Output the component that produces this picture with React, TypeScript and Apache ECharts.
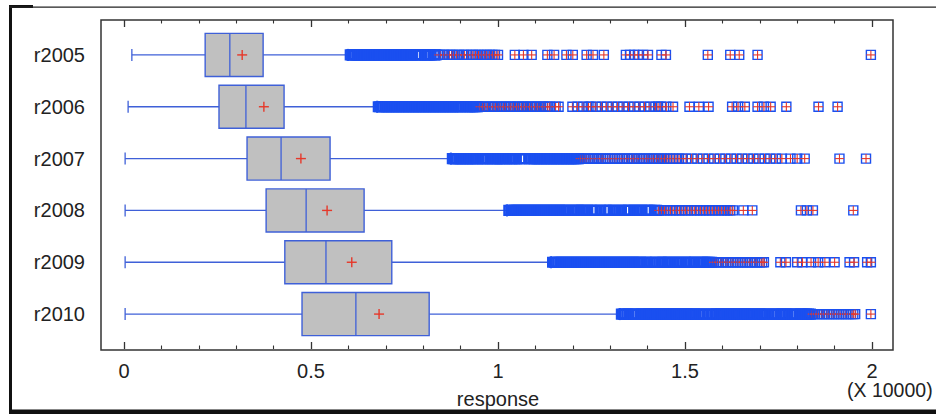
import React, { useEffect, useRef } from "react";
import * as echarts from "echarts";

// ---- data (response values; the axis shows them in units of 10000) ----
const categories = ["r2005", "r2006", "r2007", "r2008", "r2009", "r2010"];
const whiskerLow = [210, 110, 30, 30, 30, 30];
const q1 = [2170, 2540, 3290, 3800, 4300, 4760];
const median = [2830, 3260, 4200, 4870, 5400, 6200];
const q3 = [3720, 4280, 5510, 6420, 7160, 8160];
const whiskerHigh = [5990, 6770, 8740, 10240, 11420, 13260];
const mean = [3160, 3740, 4730, 5430, 6090, 6820];

const out2005 = [
  6050, 6090, 6140, 6180, 6230, 6270, 6320, 6360, 6410, 6450, 6500, 6540, 6590, 6630, 6680, 6720, 6770, 6810,
  6860, 6900, 6950, 6990, 7040, 7080, 7130, 7170, 7220, 7260, 7310, 7350, 7400, 7440, 7490, 7530, 7580, 7620,
  7670, 7710, 7800, 7850, 7890, 7940, 8030, 8070, 8120, 8160, 8210, 8300, 8340,
  8410, 8450, 8520, 8560, 8640, 8700, 8760, 8800, 8900, 8960, 9050, 9100, 9180, 9280, 9330, 9400, 9480, 9560,
  9640, 9700, 9780, 9850, 9920, 10000,
  10450, 10680, 10900, 11320, 11500, 11830, 12000, 12370, 12540, 12830, 13420, 13530, 13640, 13740, 13880,
  14010, 14370, 14490, 15610, 16210, 16450, 16940, 19970,
];
const out2006 = [
  6800, 6840, 6890, 6930, 6980, 7020, 7070, 7110, 7160, 7200, 7250, 7290, 7340, 7380, 7430, 7470, 7520, 7560,
  7610, 7650, 7700, 7740, 7790, 7830, 7880, 7920, 7970, 8010, 8060, 8100, 8150, 8190, 8240, 8280, 8330, 8370,
  8420, 8460, 8510, 8550, 8600, 8640, 8690, 8730, 8780, 8820, 8870, 8910, 8960, 9000, 9050, 9140, 9180, 9230,
  9270, 9320, 9360, 9410, 9450,
  9520, 9590, 9650, 9730, 9800, 9870, 9930, 10010, 10080, 10150, 10210, 10290, 10350, 10420, 10500, 10560,
  10640, 10700, 10780, 10850, 10910, 10990, 11050, 11130, 11200, 11260, 11330, 11390, 11540, 11620,
  11990, 12130, 12280, 12420, 12480, 12620, 12770, 12910, 13060, 13200, 13350, 13490, 13640, 13780, 13920,
  14070, 14210, 14280, 14360, 14500, 14680,
  15120, 15370, 15630, 16260, 16420, 16600, 16940, 17110, 17290, 17710, 18570, 19080,
];
const out2007 = [
  8780, 8820, 8870, 8910, 8960, 9000, 9050, 9090, 9140, 9180, 9230, 9270, 9320, 9360, 9410, 9450, 9540, 9590,
  9630, 9680, 9720, 9810, 9860, 9900, 9950, 9990, 10040, 10080, 10130, 10170, 10220, 10310, 10350, 10400,
  10440, 10490, 10580, 10620, 10710, 10850, 10890, 10940, 10980, 11030, 11070, 11120, 11160, 11210, 11250,
  11300, 11340, 11390, 11430, 11480, 11520, 11570, 11610, 11660, 11700, 11750, 11790, 11840, 11880, 11930,
  11970, 12020, 12060, 12110, 12150,
  12200, 12250, 12310, 12360, 12420, 12470, 12530, 12580, 12640, 12690, 12750, 12800, 12870, 12930, 12990,
  13060, 13120, 13190, 13250, 13320, 13380, 13450, 13510, 13580, 13640, 13710, 13780, 13840, 13910, 13970,
  14040, 14110, 14170, 14240, 14310, 14380, 14450, 14520, 14600, 14680, 14760, 14840, 14920,
  15030, 15180, 15330, 15480, 15630, 15780, 15930, 16080, 16230, 16380, 16530, 16680, 16830, 16980, 17130,
  17280, 17430, 17590, 17820, 18000, 18200, 19130, 19840,
];
const out2008 = [
  10290, 10340, 10390, 10440, 10490, 10540, 10590, 10640, 10690, 10740, 10790, 10840, 10890, 10940, 10990,
  11040, 11090, 11140, 11190, 11240, 11290, 11340, 11390, 11440, 11490, 11540, 11590, 11640, 11690, 11740,
  11790, 11840, 11890, 11990, 12040, 12090, 12140, 12190, 12240, 12290, 12340, 12390, 12490, 12540, 12590,
  12640, 12740, 12840, 12890, 12940, 12990, 13090, 13140, 13240, 13290, 13390, 13440, 13490, 13540, 13640,
  13690, 13740, 13790, 13840, 13940, 13990, 14040, 14090, 14190, 14240,
  14300, 14370, 14450, 14520, 14610, 14680, 14770, 14850, 14920, 15010, 15080, 15170, 15250, 15320, 15410,
  15490, 15570, 15650, 15730, 15810, 15900, 15980, 16060, 16140, 16210, 16280,
  16560, 16800, 18100, 18260, 18420, 19500,
];
const out2009 = [
  11460, 11510, 11560, 11610, 11660, 11710, 11760, 11810, 11860, 11910, 11960, 12010, 12060, 12110, 12160,
  12210, 12260, 12310, 12360, 12410, 12460, 12510, 12560, 12610, 12660, 12710, 12760, 12810, 12860, 12910,
  12960, 13010, 13060, 13110, 13160, 13210, 13260, 13310, 13360, 13410, 13460, 13510, 13560, 13610, 13660,
  13710, 13760, 13810, 13860, 13960, 14010, 14060, 14160, 14210, 14310, 14360, 14410, 14460, 14510, 14560,
  14610, 14710, 14760, 14810, 14860, 14910, 15010, 15060, 15110, 15160, 15210, 15260, 15360, 15410, 15460,
  15510, 15560, 15610, 15660, 15710,
  15760, 15830, 15890, 15960, 16020, 16090, 16150, 16220, 16280, 16350, 16410, 16480, 16540, 16610, 16670,
  16740, 16800, 16870, 16930, 17000, 17060, 17110,
  17550, 17700, 18000, 18140, 18370, 18560, 18740, 19000, 19400, 19520, 19870, 19970,
];
const out2010 = [
  13300, 13350, 13400, 13450, 13500, 13600, 13650, 13700, 13800, 13850, 13900, 13950, 14000, 14050, 14100,
  14150, 14200, 14250, 14300, 14350, 14400, 14450, 14500, 14550, 14600, 14650, 14700, 14750, 14800, 14850,
  14900, 14950, 15000, 15050, 15100, 15150, 15200, 15250, 15300, 15400, 15450, 15500, 15600, 15700, 15750,
  15800, 15850, 15900, 15950, 16000, 16050, 16100, 16150, 16200, 16250, 16300, 16350, 16400, 16450, 16500,
  16550, 16600, 16650, 16700, 16750, 16800, 16850, 16950, 17000, 17050, 17100, 17150, 17250, 17350, 17400,
  17450, 17550, 17600, 17650, 17700, 17750, 17850, 17900, 17950, 18050, 18100, 18150, 18200, 18250, 18300,
  18350,
  18400, 18460, 18530, 18590, 18660, 18720, 18790, 18850, 18920, 18980, 19050, 19110, 19180, 19240, 19310,
  19370, 19440, 19500, 19550, 19970,
];
const outliers = [out2005, out2006, out2007, out2008, out2009, out2010];

const xTickValues = [0, 5000, 10000, 15000, 20000];
const xScaleLabel = "(X 10000)";
const xName = "response";

// ---- styles ----
const FONT = "'Liberation Sans', Arial, sans-serif";
const TEXT = "#222";
const BOX_BLUE = "#3f60d8";
const OUT_BLUE = "#1a4ff0";
const RED = "#e6382a";
const FRAME = "#333";

export default function App() {
  const ref = useRef<HTMLDivElement>(null);

  useEffect(() => {
    if (!ref.current) return;
    const chart = echarts.init(ref.current, null, { renderer: "svg" });

    const boxData = categories.map((_, i) => [
      i, whiskerLow[i], q1[i], median[i], q3[i], whiskerHigh[i], mean[i],
    ]);
    const outData: number[][] = [];
    outliers.forEach((arr, i) => {
      const farLimit = q3[i] + 3 * (q3[i] - q1[i]);
      arr.forEach((v) => outData.push([v, i, v > farLimit ? 1 : 0]));
    });

    const renderBox = (params: any, api: any) => {
      const idx = api.value(0);
      const yc = api.coord([0, idx])[1];
      const band = api.size([0, 1])[1];
      const h = band * 0.83;
      const x = (d: number) => api.coord([api.value(d), idx])[0];
      const xl = x(1), xq1 = x(2), xm = x(3), xq3 = x(4), xh = x(5), xmean = x(6);
      const ls = { stroke: BOX_BLUE, lineWidth: 1.3 };
      return {
        type: "group",
        children: [
          { type: "line", shape: { x1: xl, y1: yc, x2: xq1, y2: yc }, style: ls },
          { type: "line", shape: { x1: xq3, y1: yc, x2: xh, y2: yc }, style: ls },
          { type: "line", shape: { x1: xl, y1: yc - 6, x2: xl, y2: yc + 6 }, style: ls },
          { type: "line", shape: { x1: xh, y1: yc - 6, x2: xh, y2: yc + 6 }, style: { stroke: OUT_BLUE, lineWidth: 2 } },
          {
            type: "rect",
            shape: { x: xq1, y: yc - h / 2, width: xq3 - xq1, height: h },
            style: { fill: "#c0c0c0", stroke: BOX_BLUE, lineWidth: 1.4 },
          },
          { type: "line", shape: { x1: xm, y1: yc - h / 2, x2: xm, y2: yc + h / 2 }, style: ls },
          { type: "line", shape: { x1: xmean - 5, y1: yc, x2: xmean + 5, y2: yc }, style: { stroke: RED, lineWidth: 1.4 } },
          { type: "line", shape: { x1: xmean, y1: yc - 5, x2: xmean, y2: yc + 5 }, style: { stroke: RED, lineWidth: 1.4 } },
        ],
      };
    };

    const renderOut = (params: any, api: any) => {
      const c = api.coord([api.value(0), api.value(1)]);
      const far = api.value(2);
      const children: any[] = [
        {
          type: "rect",
          shape: { x: c[0] - 4.5, y: c[1] - 4.5, width: 9, height: 9 },
          style: { fill: "none", stroke: OUT_BLUE, lineWidth: far ? 1.4 : 2.2 },
        },
      ];
      if (far) {
        children.push(
          { type: "line", shape: { x1: c[0] - 4.5, y1: c[1], x2: c[0] + 4.5, y2: c[1] }, style: { stroke: RED, lineWidth: 1.1 } },
          { type: "line", shape: { x1: c[0], y1: c[1] - 4.5, x2: c[0], y2: c[1] + 4.5 }, style: { stroke: RED, lineWidth: 1.1 } }
        );
      }
      return { type: "group", children };
    };

    const tickCommon = {
      axisLine: { show: false },
      axisTick: { show: true, inside: true, length: 7, lineStyle: { color: FRAME, width: 1.3 } },
      minorTick: { show: true, splitNumber: 5, length: 3.5, lineStyle: { color: FRAME, width: 1.1 } },
      splitLine: { show: false },
      minorSplitLine: { show: false },
    };

    chart.setOption({
      animation: false,
      grid: { left: 124, right: 64, top: 29, bottom: 73 },
      xAxis: [
        {
          type: "value",
          min: xTickValues[0],
          max: xTickValues[xTickValues.length - 1],
          interval: xTickValues[1] - xTickValues[0],
          position: "bottom",
          offset: 9,
          ...tickCommon,
          axisLabel: {
            fontSize: 20,
            lineHeight: 16,
            fontFamily: FONT,
            color: TEXT,
            margin: 14,
            formatter: (v: number) => String(v / 10000),
          },
          name: xName,
          nameLocation: "middle",
          nameGap: 42,
          nameTextStyle: { fontSize: 20, lineHeight: 16, fontFamily: FONT, color: TEXT, verticalAlign: "top" },
        },
        {
          type: "value",
          min: xTickValues[0],
          max: xTickValues[xTickValues.length - 1],
          interval: xTickValues[1] - xTickValues[0],
          position: "top",
          offset: 9,
          ...tickCommon,
          axisLabel: { show: false },
        },
      ],
      yAxis: {
        type: "category",
        data: categories,
        inverse: true,
        axisLine: { show: false },
        axisTick: { show: false },
        splitLine: { show: false },
        axisLabel: { fontSize: 20, fontFamily: FONT, color: TEXT, margin: 39 },
      },
      series: [
        {
          type: "custom",
          renderItem: renderBox,
          data: boxData,
          encode: { x: [1, 2, 3, 4, 5, 6], y: 0 },
          clip: false,
        },
        {
          type: "custom",
          renderItem: renderOut,
          data: outData,
          encode: { x: 0, y: 1 },
          clip: false,
        },
      ],
      graphic: [
        {
          type: "rect",
          shape: { x: 101, y: 20, width: 792, height: 330 },
          style: { fill: "none", stroke: FRAME, lineWidth: 1.5 },
          silent: true,
        },
        {
          type: "text",
          x: 847,
          y: 390,
          style: {
            text: xScaleLabel,
            font: `19.5px ${FONT}`,
            lineHeight: 15,
            fill: TEXT,
            align: "left",
            verticalAlign: "middle",
          },
        },
        { type: "rect", shape: { x: 9, y: 6, width: 3, height: 408 }, style: { fill: "#111" } },
        { type: "rect", shape: { x: 9, y: 5, width: 24, height: 3 }, style: { fill: "#111" } },
        { type: "rect", shape: { x: 9, y: 6.5, width: 927, height: 1.3 }, style: { fill: "#222" } },
        { type: "rect", shape: { x: 9, y: 409.5, width: 927, height: 4.5 }, style: { fill: "#111" } },
      ],
    });

    return () => chart.dispose();
  }, []);

  return (
    <div
      ref={ref}
      style={{ position: "fixed", left: 0, top: 0, width: 936, height: 414, background: "#fff" }}
    />
  );
}
